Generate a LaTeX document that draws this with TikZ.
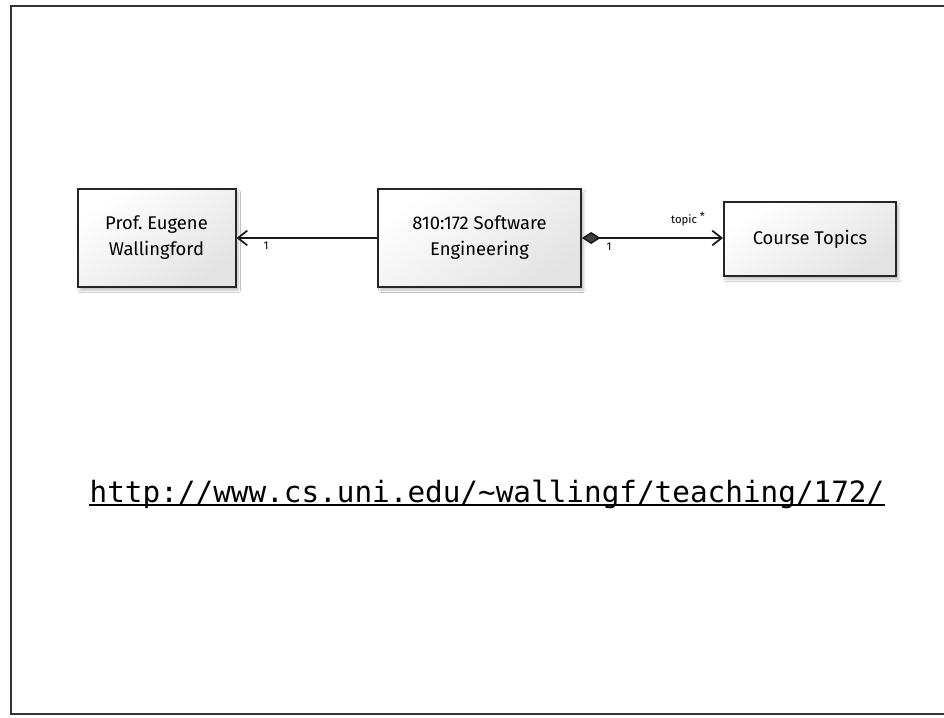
\documentclass[tikz,border=0pt]{standalone}
\usepackage{fontspec}
\newfontfamily\boxfont{Fira Sans}
\newfontfamily\urlfont{DejaVu Sans Mono}
\usetikzlibrary{arrows.meta,shadows.blur}
\tikzset{
  umlbox/.style={draw=black!85, line width=1.5pt, shading=axis, top color=white, bottom color=black!11, shading angle=35,
    blur shadow={shadow xshift=2pt, shadow yshift=-2.5pt, shadow blur steps=8, shadow opacity=25},
    align=center, inner sep=0pt, font=\boxfont\fontsize{13.8}{19.5}\selectfont},
  conn/.style={line width=1.1pt, draw=black!90},
  mult/.style={font=\boxfont\fontsize{8.5}{10}\selectfont, inner sep=0pt},
  frameline/.style={line width=1.6pt, draw=black!80}
}
\begin{document}
\begin{tikzpicture}[x=0.75pt,y=-0.75pt]
\useasboundingbox (0,0) rectangle (944,717);
\fill[white] (0,0) rectangle (944,717);
\draw[frameline] (944,6) -- (11,6) -- (11,714) -- (944,714);

\node[umlbox, minimum width=118.5pt, minimum height=73.5pt] (prof) at (156.5,238) {Prof.\ Eugene\\Wallingford};
\node[umlbox, minimum width=152pt, minimum height=73pt] (sw) at (479.5,238) {810:172 Software\\Engineering};
\node[umlbox, minimum width=129pt, minimum height=55.5pt] (topics) at (810,239) {Course Topics};

\draw[conn, -{Straight Barb[length=7pt,width=11pt,line width=1.3pt]}] (sw.west) -- (prof.east);
\draw[conn, {Diamond[length=14pt,width=9pt,fill=black!75]}-{Straight Barb[length=7pt,width=11pt,line width=1.3pt]}] (sw.east) -- (sw.east -| topics.west);

\node[mult] (m1) at (266,246) {1};
\node[mult] (m2) at (609,247) {1};
\node[mult] (role) at (688,219) {topic \raisebox{2pt}{*}};

\node[font=\urlfont\fontsize{22}{26}\selectfont, anchor=base, inner sep=0pt] (url) at (487,502) {http://www.cs.uni.edu/\textasciitilde wallingf/teaching/172/};
\draw[line width=1.5pt] ([yshift=-2.5pt]url.base west) -- ([yshift=-2.5pt]url.base east);
\end{tikzpicture}
\end{document}
